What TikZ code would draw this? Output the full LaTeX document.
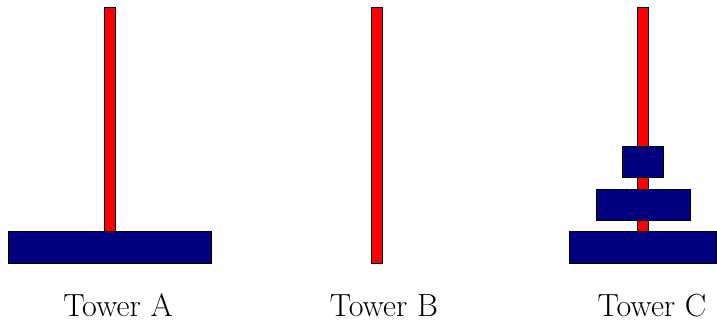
\documentclass[tikz,border=0pt]{standalone}
\definecolor{disknavy}{RGB}{0,0,128}
\definecolor{polered}{RGB}{255,0,0}
\begin{document}
\begin{tikzpicture}[x=0.5pt,y=-0.5pt,
  pole/.style={fill=polered,draw=black,line width=0.4pt},
  disk/.style={fill=disknavy,draw=black,line width=0.4pt},
  lbl/.style={anchor=base,inner sep=0pt,text depth=0pt,font=\fontsize{16}{19}\selectfont}]
\useasboundingbox (0,0) rectangle (717,320);
% Tower A
\draw[pole] (104,7) rectangle (115,232);
\draw[disk] (8,231) rectangle (211,263);
% Tower B
\draw[pole] (371,7) rectangle (382,263);
% Tower C
\draw[pole] (637,7) rectangle (648,263);
\draw[disk] (569,231) rectangle (716.5,263);
\draw[disk] (596,189) rectangle (690,220);
\draw[disk] (622,146) rectangle (663,177);
% labels
\node[lbl] (la) at (118,316.5) {Tower A};
\node[lbl] (lb) at (384,316.5) {Tower B};
\node[lbl] (lc) at (652,316.5) {Tower C};
\end{tikzpicture}
\end{document}
